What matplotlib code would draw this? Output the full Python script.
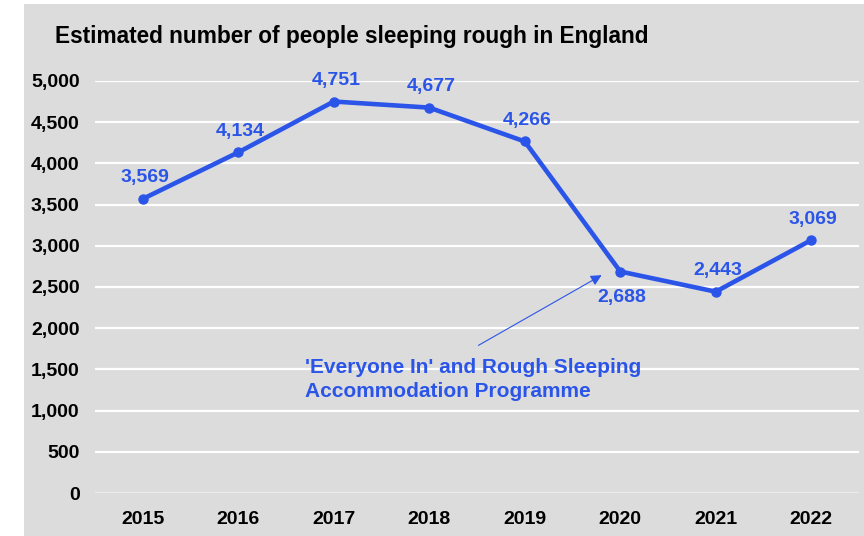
import matplotlib.pyplot as plt
from matplotlib.patches import Rectangle

plt.rcParams['font.family'] = ['Liberation Sans', 'DejaVu Sans']

years = ['2015', '2016', '2017', '2018', '2019', '2020', '2021', '2022']
rough_sleepers = [3569, 4134, 4751, 4677, 4266, 2688, 2443, 3069]
# label goes above the point except for 2020
label_below = [False, False, False, False, False, True, False, False]
yticks = [0, 500, 1000, 1500, 2000, 2500, 3000, 3500, 4000, 4500, 5000]

bg = '#dcdcdc'
blue = '#2b55e8'

fig = plt.figure(figsize=(8.64, 5.36), dpi=100)
fig.patches.append(Rectangle((24/864, 0), 1, 1 - 4/536, transform=fig.transFigure,
                             facecolor=bg, edgecolor='none', zorder=-5))

ax = fig.add_axes([95/864, 1 - 493/536, 764/864, 412/536])
ax.set_facecolor(bg)

x = list(range(len(years)))
ax.plot(x, rough_sleepers, color=blue, lw=3.3, marker='o', ms=6.5, zorder=3)

for xi, v, below in zip(x, rough_sleepers, label_below):
    off = -26 if below else 21
    ax.annotate(f'{v:,}', (xi, v), xytext=(2, off), textcoords='offset pixels',
                ha='center', va='center', color=blue, fontsize=14, fontweight='bold')

ax.annotate('', xy=(4.83, 2660), xytext=(3.49, 1775),
            arrowprops=dict(arrowstyle='-|>', color=blue, lw=0.8, mutation_scale=16))
ax.text(1.70, 1635, "'Everyone In' and Rough Sleeping\nAccommodation Programme",
        ha='left', va='top', color=blue, fontsize=15, fontweight='bold', linespacing=1.3)

ax.set_xlim(-0.5, 7.5)
ax.set_ylim(0, 5000)
ax.set_xticks(x)
ax.set_xticklabels(years)
ax.set_yticks(yticks)
ax.set_yticklabels([f'{t:,}' for t in yticks])
ax.tick_params(length=0, labelsize=14, colors='black')
ax.tick_params(axis='y', pad=11)
ax.tick_params(axis='x', pad=13)
for lab in ax.get_xticklabels() + ax.get_yticklabels():
    lab.set_fontweight('bold')

ax.grid(axis='y', color='white', lw=1.6)
ax.set_axisbelow(True)
for s in ax.spines.values():
    s.set_visible(False)
ax.axhline(0, color='#e6e6e6', lw=1.2, zorder=1)

fig.text(55/864, 1 - 37/536, 'Estimated number of people sleeping rough in England',
         ha='left', va='center', fontsize=16.3, fontweight='bold', color='black')

fig.savefig('out.png', dpi=100)
